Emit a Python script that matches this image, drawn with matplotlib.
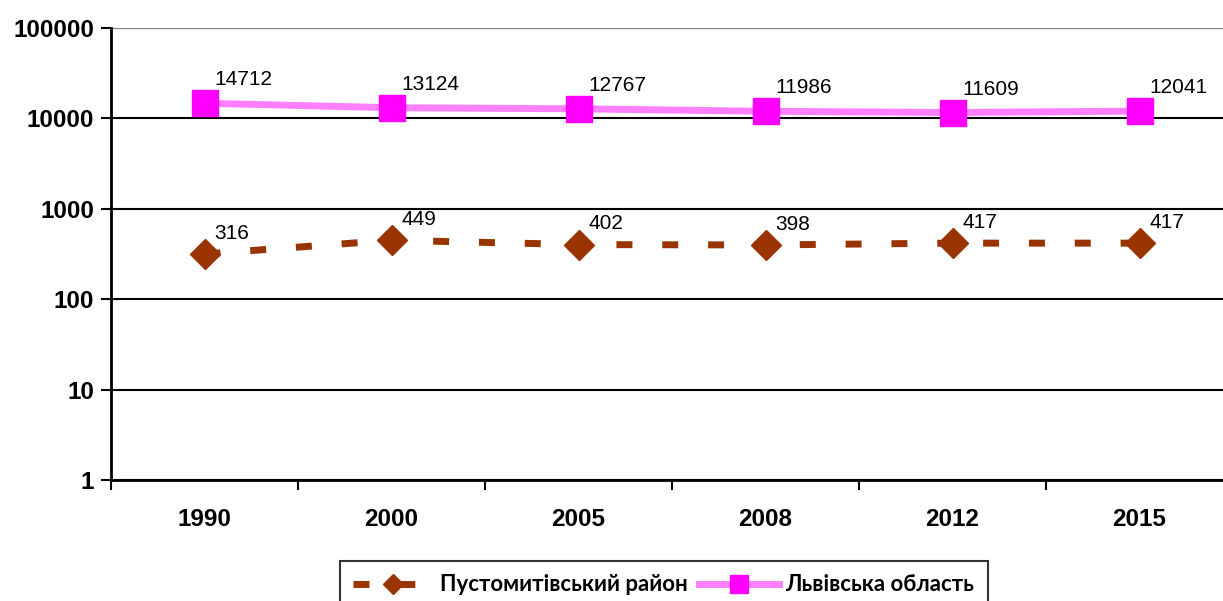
import matplotlib
matplotlib.use('Agg')
from matplotlib import pyplot as plt
from matplotlib.ticker import FixedLocator, NullLocator

# data
years = ['1990', '2000', '2005', '2008', '2012', '2015']
pustomyty = [316, 449, 402, 398, 417, 417]
lviv = [14712, 13124, 12767, 11986, 11609, 12041]
y_ticks = [1, 10, 100, 1000, 10000, 100000]

plt.rcParams['font.family'] = ['Liberation Sans', 'DejaVu Sans']

fig = plt.figure(figsize=(12.23, 6.01), dpi=100)
ax = fig.add_axes([111 / 1223, 1 - 480 / 601, 1122 / 1223, 452 / 601])

x = list(range(len(years)))

# pink line: Lviv oblast
ax.plot(x, lviv, color='#ff80ff', lw=5, marker='s', markersize=19,
        markerfacecolor='#ff00ff', markeredgecolor='#ff00ff',
        label='Львівська область', zorder=4)

# brown dashed line: Pustomyty district
ax.plot(x, pustomyty, color='#993300', lw=5, dashes=(2.3, 4.3),
        marker='D', markersize=15, markerfacecolor='#993300',
        markeredgecolor='#993300', label='Пустомитівський район', zorder=4)

for xi, v in zip(x, lviv):
    ax.annotate(str(v), (xi, v), xytext=(7, 10), textcoords='offset points',
                fontsize=15, ha='left', va='bottom')
for xi, v in zip(x, pustomyty):
    ax.annotate(str(v), (xi, v), xytext=(7, 8), textcoords='offset points',
                fontsize=15, ha='left', va='bottom')

ax.set_yscale('log')
ax.set_ylim(1, 100000)
ax.set_xlim(-0.5, len(years) - 0.5)
ax.yaxis.set_major_locator(FixedLocator(y_ticks))
ax.yaxis.set_minor_locator(NullLocator())
ax.set_yticklabels([str(t) for t in y_ticks], fontsize=17.5, fontweight='bold')

ax.set_xticks(x)
ax.set_xticklabels(years, fontsize=17.5, fontweight='bold')
ax.set_xticks([i - 0.5 for i in range(len(years) + 1)], minor=True)
ax.tick_params(axis='x', which='major', length=0, pad=20)
ax.tick_params(axis='x', which='minor', length=7, width=1.5, direction='out')
ax.tick_params(axis='y', which='major', length=7, width=1.5, direction='out', pad=5)

ax.yaxis.grid(True, color='black', lw=1.5)
ax.set_axisbelow(True)
for side in ['top', 'right']:
    ax.spines[side].set_visible(False)
ax.spines['left'].set_linewidth(2)
ax.spines['bottom'].set_linewidth(2)
ax.axhline(100000, color='#808080', lw=1.5)

handles, labels = ax.get_legend_handles_labels()
leg = fig.legend(handles[::-1], labels[::-1], ncol=2, loc='upper left',
                 bbox_to_anchor=(340 / 1223, 1 - 561 / 601),
                 frameon=True, fancybox=False, edgecolor='black',
                 prop={'family': 'Lato', 'weight': 'bold', 'size': 16},
                 handlelength=3.6, columnspacing=0.5, handletextpad=0.3,
                 borderpad=0.6, borderaxespad=0, markerscale=0.7)
leg.get_frame().set_linewidth(1.5)

fig.savefig('out.png', dpi=100)
